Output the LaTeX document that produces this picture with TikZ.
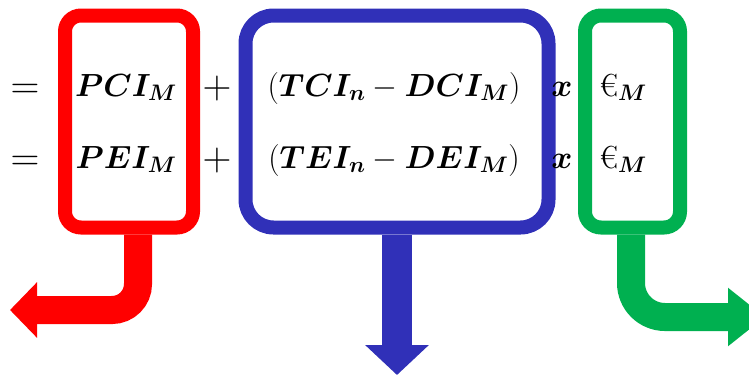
\RequirePackage{fix-cm}
\documentclass[tikz,border=0pt]{standalone}
\usepackage{amsmath}
\usepackage{bm}
\usetikzlibrary{arrows.meta, positioning}
\definecolor{redline}{RGB}{255,0,0}
\definecolor{blueline}{RGB}{48,48,184}
\definecolor{greenline}{RGB}{0,176,80}

\begin{document}
\begin{tikzpicture}[x=1pt, y=-1pt,
    term/.style={anchor=base, inner sep=0pt, font=\fontsize{32}{38}\selectfont},
    sign/.style={term, font=\fontsize{40}{46}\selectfont},
    frame/.style={draw=#1, line width=14pt, minimum height=212pt, inner sep=0pt},
    fatarrow/.style={draw=#1, line width=28pt, rounded corners=26pt}]
    \clip (0,0) rectangle (749,376);

    % Frames
    \node[frame=redline, rounded corners=16pt, minimum width=128pt] (redbox) at (129,121.5) {};
    \node[frame=blueline, rounded corners=28pt, minimum width=303pt] (bluebox) at (397,121.5) {};
    \node[frame=greenline, rounded corners=16pt, minimum width=95pt] (greenbox) at (632.5,121.5) {};

    % First row
    \node[sign] (eqA) at (25,98) {$=$};
    \node[term] (pciA) at (126,96) {$\bm{PCI_M}$};
    \node[sign] (plusA) at (217,98) {$+$};
    \node[term] (tciA) at (394,96) {$(\bm{TCI_n} - \bm{DCI_M})$};
    \node[term] (xA) at (562,96) {$\bm{x}$};
    \node[term] (euroA) at (623,96) {€$_{\bm{M}}$};

    % Second row
    \node[sign] (eqB) at (25,170) {$=$};
    \node[term] (peiB) at (126,168) {$\bm{PEI_M}$};
    \node[sign] (plusB) at (217,170) {$+$};
    \node[term] (teiB) at (394,168) {$(\bm{TEI_n} - \bm{DEI_M})$};
    \node[term] (xB) at (562,168) {$\bm{x}$};
    \node[term] (euroB) at (623,168) {€$_{\bm{M}}$};

    % Arrows out of the frames
    \coordinate (redend) at (10,310);
    \coordinate (blueend) at (397,375);
    \coordinate (greenend) at (765,317);
    \draw[fatarrow=redline, -{Triangle[length=27pt, width=54pt]}] ([xshift=9pt]redbox.south) |- (redend);
    \draw[fatarrow=blueline, line width=30pt, -{Triangle[length=30pt, width=62pt]}] (bluebox.south) -- (blueend);
    \draw[fatarrow=greenline, rounded corners=34pt, -{Triangle[length=37pt, width=56pt]}] ([xshift=-1.5pt]greenbox.south) |- (greenend);
\end{tikzpicture}
\end{document}
